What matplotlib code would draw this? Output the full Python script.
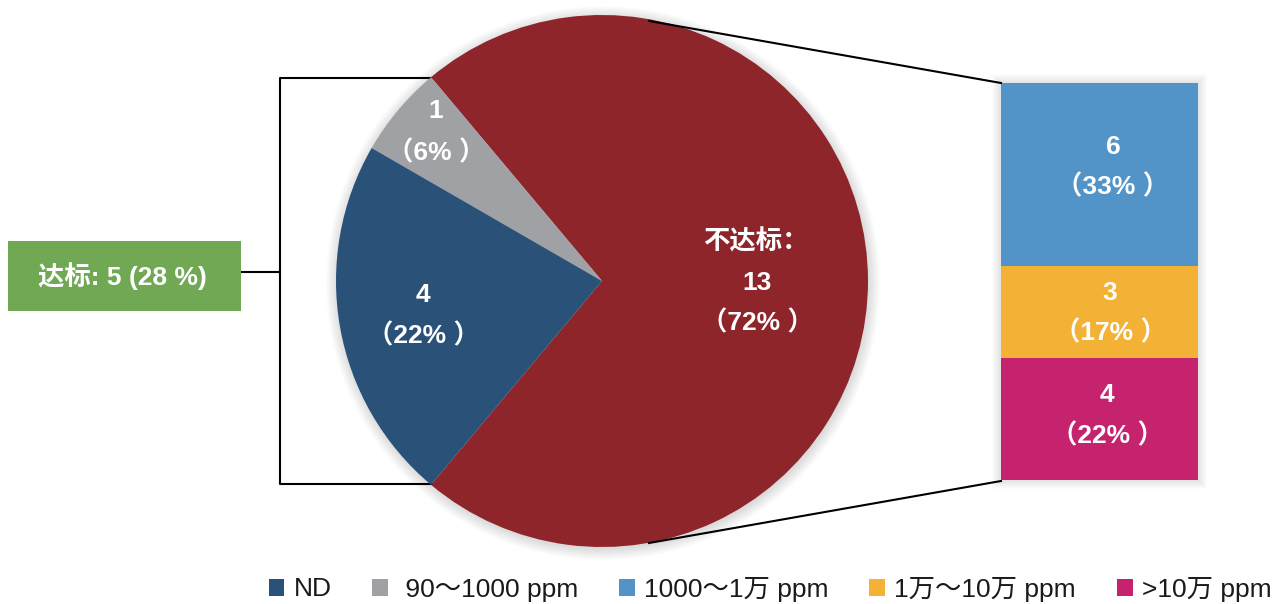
import matplotlib.pyplot as plt
from matplotlib.patches import Circle, Rectangle, Patch

# 样本分布：达标 / 不达标
main_labels = ['不达标', '90～1000 ppm', 'ND']
main_counts = [13, 1, 4]
main_colors = ['#8E252A', '#A0A1A5', '#2A5279']

# 不达标样本细分（自下而上堆叠）
sub_labels = ['>10万 ppm', '1万～10万 ppm', '1000～1万 ppm']
sub_counts = [4, 3, 6]
sub_colors = ['#C5236E', '#F3B236', '#5394C8']

legend_labels = ['ND', ' 90～1000 ppm', '1000～1万 ppm', '1万～10万 ppm', '>10万 ppm']
legend_colors = ['#2A5279', '#A0A1A5', '#5394C8', '#F3B236', '#C5236E']

total = sum(main_counts)
pass_count = main_counts[1] + main_counts[2]

W, H = 1276, 604
lab_font = ['Liberation Sans', 'Noto Sans CJK SC', 'DejaVu Sans']
plt.rcParams['font.family'] = lab_font


def Y(py):
    return H - py


def pct(n):
    return f'（{round(100 * n / total)}% ）'


fig = plt.figure(figsize=(W / 100, H / 100), dpi=100)
ax = fig.add_axes([0, 0, 1, 1])

# 饼图
cx, cy, r = 602, Y(281), 266
for i in range(12):
    ax.add_patch(Circle((cx + 1, cy - 2), r + i, color='k', alpha=0.012, lw=0, zorder=0))
ax.pie(main_counts, colors=main_colors, startangle=-130, counterclock=True,
       center=(cx, cy), radius=r, frame=True,
       wedgeprops=dict(linewidth=0, zorder=2))

# 右侧堆叠条
bx, bw, bbot, btop = 1001, 197, Y(480), Y(83)
unit = (btop - bbot) / sum(sub_counts)
for i in range(10):
    ax.add_patch(Rectangle((bx - i, bbot - i), bw + 2 * i, (btop - bbot) + 2 * i,
                           color='k', alpha=0.01, lw=0, zorder=0))
bottom = bbot
for n, c in zip(sub_counts, sub_colors):
    ax.bar(bx + bw / 2, n * unit, width=bw, bottom=bottom, color=c, lw=0, zorder=2)
    bottom += n * unit

# 连接线
ax.plot([649, bx], [Y(21), Y(83)], color='black', lw=1.5, zorder=3)
ax.plot([649, bx], [Y(543), Y(481)], color='black', lw=1.5, zorder=3)

# 左侧括线与达标标签
ax.plot([434, 280, 280, 434], [Y(78), Y(78), Y(484), Y(484)], color='black', lw=1.5, zorder=1)
ax.plot([241, 280], [Y(272), Y(272)], color='black', lw=1.5, zorder=1)
ax.add_patch(Rectangle((8, Y(311)), 233, 70, color='#70A854', lw=0, zorder=2))
ax.text(122, Y(276), f'达标: {pass_count} ({round(100 * pass_count / total)} %)',
        color='white', fontsize=19, fontweight='bold', ha='center', va='center', zorder=4)

# 数值标签
txt = dict(color='white', fontsize=19, fontweight='bold', ha='center', va='center', zorder=4)
ax.text(436, Y(111), str(main_counts[1]), **txt)
ax.text(436, Y(153), pct(main_counts[1]), **txt)
ax.text(423, Y(295), str(main_counts[2]), **txt)
ax.text(423, Y(336), pct(main_counts[2]), **txt)
ax.text(756, Y(242), '不达标：', **txt)
ax.text(757, Y(283), str(main_counts[0]), **txt)
ax.text(757, Y(323), pct(main_counts[0]), **txt)

ax.text(1113, Y(147), str(sub_counts[2]), **txt)
ax.text(1113, Y(187), pct(sub_counts[2]), **txt)
ax.text(1110, Y(293), str(sub_counts[1]), **txt)
ax.text(1110, Y(333), pct(sub_counts[1]), **txt)
ax.text(1107, Y(395), str(sub_counts[0]), **txt)
ax.text(1107, Y(436), pct(sub_counts[0]), **txt)

# 图例
handles = [Patch(color=c, lw=0) for c in legend_colors]
ax.legend(handles, legend_labels, loc='center', bbox_to_anchor=(770 / W, 1 - 589 / H),
          ncol=5, frameon=False, fontsize=19, handlelength=0.6, handleheight=0.6,
          handletextpad=0.35, columnspacing=1.55, labelcolor='#1a1a1a',
          borderpad=0, borderaxespad=0)

ax.set_xlim(0, W)
ax.set_ylim(0, H)
ax.set_aspect('equal')
ax.axis('off')

fig.savefig('out.png', dpi=100)
